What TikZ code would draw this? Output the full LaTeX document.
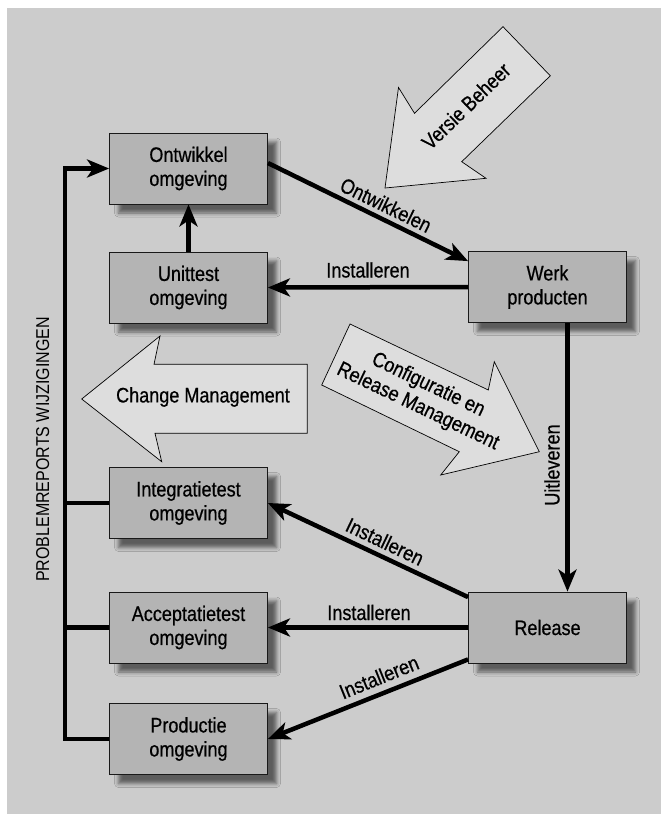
\documentclass[tikz,border=0pt]{standalone}
\usepackage{fontspec}
\setmainfont{Liberation Sans}[FakeStretch=0.86,FakeBold=0.6]
\newfontfamily\plainfont{Liberation Sans}[FakeStretch=0.86]
\usetikzlibrary{arrows.meta,shadows.blur,calc}
\definecolor{bg}{RGB}{204,204,204}
\definecolor{boxgray}{RGB}{180,180,180}
\definecolor{arrowgray}{RGB}{221,221,221}
\begin{document}
\begin{tikzpicture}[x=1pt,y=-1pt,
  envbox/.style={draw=black!90, line width=0.8pt, fill=boxgray,
    minimum width=158pt, minimum height=71pt, align=center, inner sep=0pt,
    font=\fontsize{21}{24}\selectfont,
    blur shadow={shadow xshift=9pt, shadow yshift=-9pt, shadow blur radius=4pt, shadow opacity=55}},
  flow/.style={line width=4.5pt, -{Stealth[length=22pt,width=18pt,inset=6pt]}},
  plain/.style={line width=4.5pt},
  lbl/.style={inner sep=0pt, font=\fontsize{21}{24}\selectfont},
  smalllbl/.style={inner sep=0pt, font=\plainfont\fontsize{18.6}{22}\selectfont},
  bigarrow/.style={draw=black, line width=0.7pt, fill=arrowgray, line join=miter}
]
\useasboundingbox (0,0) rectangle (661,814);
\fill[white] (0,0) rectangle (661,814);
\fill[bg] (7,8) rectangle (661,814);

% big block arrows
\draw[bigarrow] (385,188) -- (398.5,87.5) -- (414.5,113.3) -- (503,26.7) -- (550.3,75.8) -- (461.7,161.7) -- (486,178.3) -- cycle;
\node[lbl, rotate=44] (versie) at (466,106) {Versie Beheer};

\draw[bigarrow] (350,324) -- (488.3,390) -- (494.3,361.7) -- (539.3,451.7) -- (440.7,475) -- (459.3,451.7) -- (321.7,385) -- cycle;
\node[lbl, rotate=-25.5, align=center] (config) at (423,396) {Configuratie en\\Release Management};

\draw[bigarrow] (81.7,399) -- (160,336) -- (154,364.3) -- (307.3,364.3) -- (307.3,433.3) -- (155,433.3) -- (161.7,461.7) -- cycle;
\node[lbl] (change) at (203,397) {Change Management};

% boxes
\node[envbox] (ont) at (188.5,168.5) {Ontwikkel\\omgeving};
\node[envbox] (unit) at (188.5,287.5) {Unittest\\omgeving};
\node[envbox] (werk) at (547.5,287) {Werk\\producten};
\node[envbox] (integ) at (188.5,503) {Integratietest\\omgeving};
\node[envbox] (acc) at (188.5,627.5) {Acceptatietest\\omgeving};
\node[envbox] (prod) at (188.5,739) {Productie\\omgeving};
\node[envbox] (rel) at (547.5,627.5) {Release};

% connectors
\coordinate (fb) at (65,168.5);
\draw[flow] (prod.west) -- (prod.west -| fb) -- (fb) -- (ont.west);
\draw[plain] (acc.west -| fb) -- (acc.west);
\draw[plain] (integ.west -| fb) -- (integ.west);
\draw[flow] (unit.north) -- (ont.south);
\draw[flow] ([yshift=5.5pt]ont.east) -- ([yshift=-10pt]werk.north west);
\draw[flow] (werk.west) -- (unit.east);
\draw[flow] ([xshift=20pt]werk.south) -- ([xshift=20pt]rel.north);
\draw[flow] ([yshift=-5.5pt]rel.north west) -- (integ.east);
\draw[flow] (rel.west) -- (acc.east);
\draw[flow] ([yshift=4pt]rel.south west) -- (prod.east);

% labels
\node[lbl, rotate=-26] (lontw) at (386,205) {Ontwikkelen};
\node[lbl] (linst1) at (368,270) {Installeren};
\node[lbl, rotate=90] (luitl) at (552,465) {Uitleveren};
\node[lbl, rotate=-25.5] (linst2) at (385,541.5) {Installeren};
\node[lbl] (linst3) at (369,612.5) {Installeren};
\node[lbl, rotate=22] (linst4) at (379,677) {Installeren};
\node[smalllbl, rotate=90] (lprob) at (42.7,449.5) {PROBLEMREPORTS WIJZIGINGEN};
\end{tikzpicture}
\end{document}
